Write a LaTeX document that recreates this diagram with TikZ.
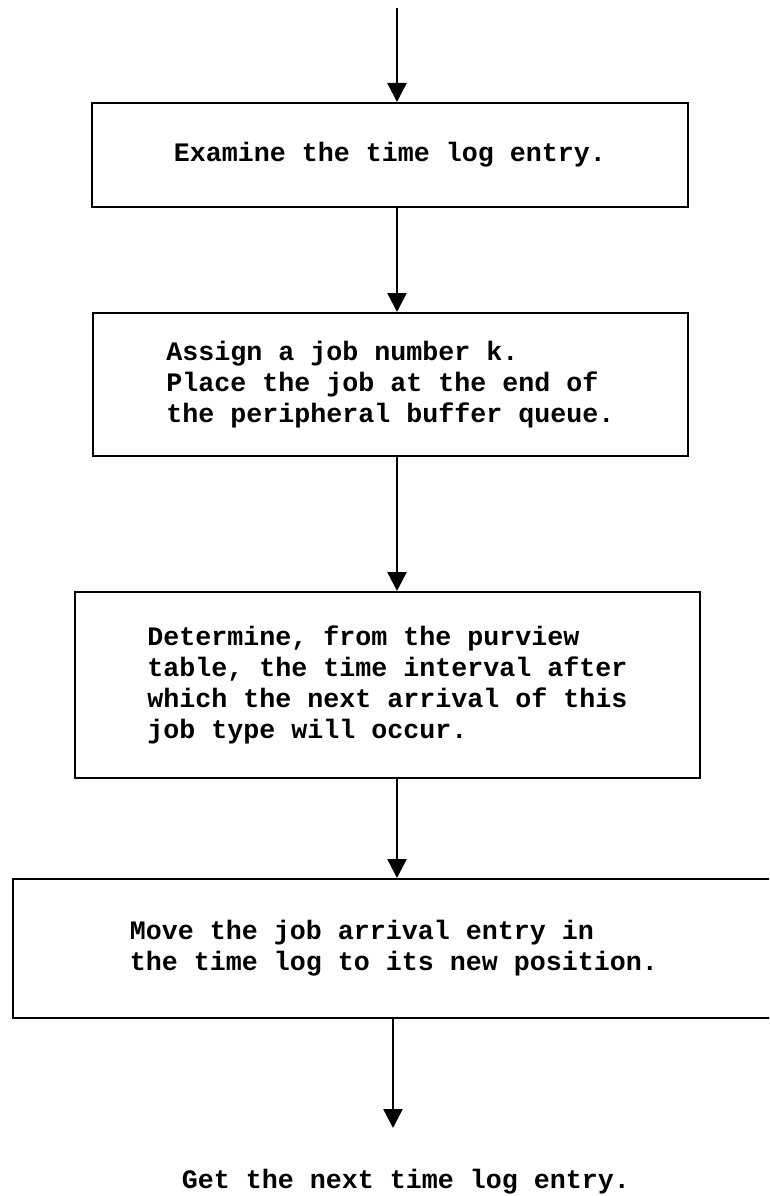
\documentclass[tikz,border=0pt]{standalone}
\usepackage{fontspec}
\setmonofont{Liberation Mono}
\usetikzlibrary{arrows.meta}
\begin{document}
\begin{tikzpicture}[x=1pt,y=-1pt,
  txt/.style={font=\ttfamily\bfseries\fontsize{26.67}{31}\selectfont},
  box/.style={draw=black, line width=2pt, inner sep=0pt, align=left, anchor=center, txt},
  arr/.style={line width=2.4pt, -{Triangle[length=19pt,width=19pt]}},
  lbl/.style={inner sep=0pt, txt}]
\useasboundingbox (0,0) rectangle (769,1196);
\clip (0,0) rectangle (769,1196);
\node[box, minimum width=596pt, minimum height=104pt] (b1) at (390,155)
  {Examine the time log entry.};
\node[box, minimum width=595pt, minimum height=143pt] (b2) at (390.5,384.5)
  {Assign a job number k.\\Place the job at the end of\\the peripheral buffer queue.};
\node[box, minimum width=625pt, minimum height=186pt] (b3) at (387.5,685)
  {Determine, from the purview\\table, the time interval after\\which the next arrival of this\\job type will occur.};
\node[box, minimum width=762pt, minimum height=139pt] (b4) at (394,948.5)
  {Move the job arrival entry in\\the time log to its new position.};
\node[lbl, anchor=base] (endtxt) at (406,1188) {Get the next time log entry.};
\coordinate (top) at (397,8);
\coordinate (ax) at (397,0);
\coordinate (tip) at (393,1128);
\draw[arr] (top) -- (top |- b1.north);
\draw[arr] (b1.south -| ax) -- (b2.north -| ax);
\draw[arr] (b2.south -| ax) -- (b3.north -| ax);
\draw[arr] (b3.south -| ax) -- (b4.north -| ax);
\draw[arr] (b4.south -| tip) -- (tip);
\end{tikzpicture}
\end{document}
